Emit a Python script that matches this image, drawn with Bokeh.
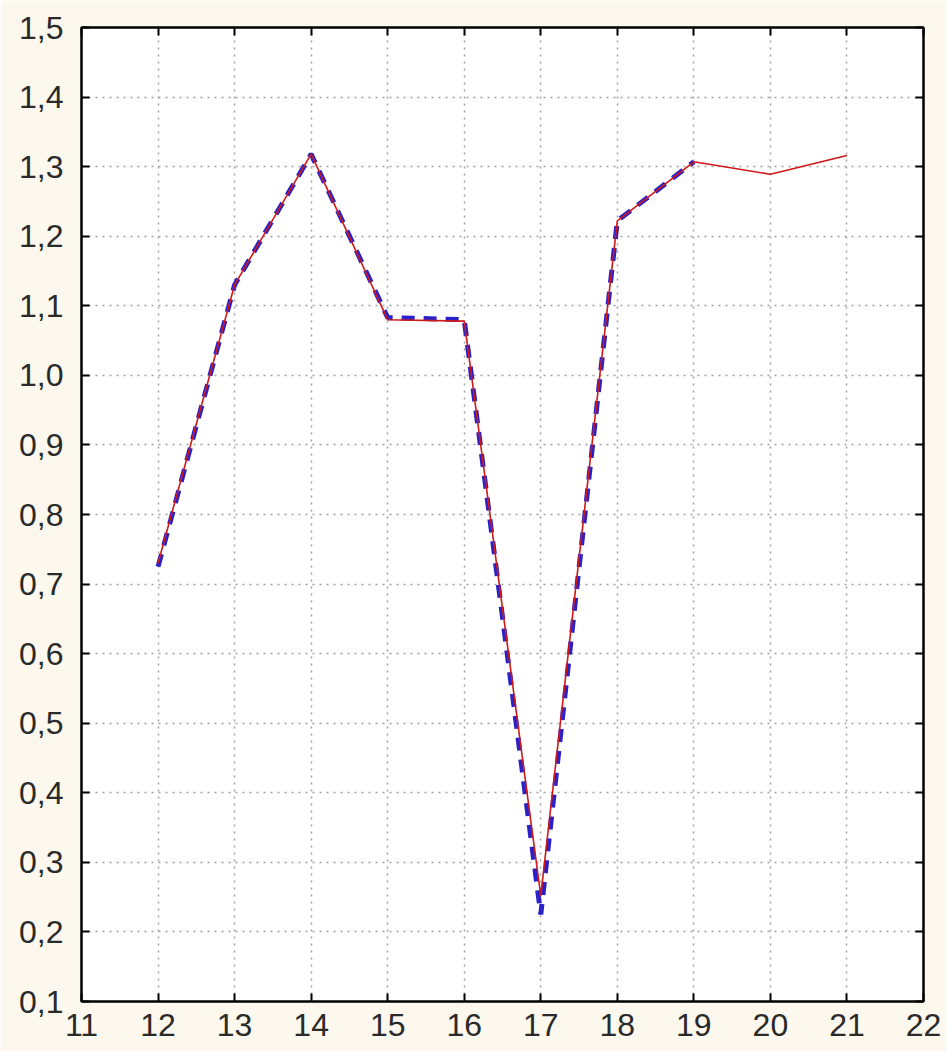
from bokeh.plotting import figure
from bokeh.models import (LinearAxis, FixedTicker, CustomJSTickFormatter, Range1d)
from bokeh.embed import file_html
from bokeh.resources import INLINE

# Data
x_red = [12, 13, 14, 15, 16, 17, 18, 19, 20, 21]
y_red = [0.73, 1.13, 1.318, 1.08, 1.078, 0.252, 1.222, 1.307, 1.289, 1.316]
x_blue = [12, 13, 14, 15, 16, 17, 18, 19]
y_blue = [0.725, 1.13, 1.318, 1.083, 1.08, 0.225, 1.222, 1.307]

x_ticks = list(range(11, 23))
y_ticks = [round(0.1 * i, 1) for i in range(1, 16)]

BG = "#FCF8EE"
FONT = "Liberation Sans"
FS = "32px"

p = figure(width=946, height=1051, output_backend="svg", toolbar_location=None,
           x_range=Range1d(11, 22), y_range=Range1d(0.1, 1.5),
           x_axis_location=None, y_axis_location=None,
           min_border_left=81, min_border_top=27, min_border_right=23, min_border_bottom=50)
p.border_fill_color = BG
p.background_fill_color = "white"
p.outline_line_color = "black"
p.outline_line_width = 2

fmt = CustomJSTickFormatter(code="return tick.toFixed(1).replace('.', ',');")
fmt_int = CustomJSTickFormatter(code="return tick.toFixed(0);")
empty = CustomJSTickFormatter(code="return '';")

def style(ax, labels=True):
    ax.axis_line_color = "black"
    ax.axis_line_width = 2
    ax.major_tick_in = 8
    ax.major_tick_out = 0
    ax.major_tick_line_width = 2
    ax.major_tick_line_color = "black"
    ax.minor_tick_line_color = None
    ax.major_label_text_font = FONT
    ax.major_label_text_font_size = FS
    ax.major_label_text_color = "#2a2a2a"
    if not labels:
        ax.major_label_text_font_size = "0px"
        ax.major_label_standoff = 0

left = LinearAxis(ticker=FixedTicker(ticks=y_ticks), formatter=fmt)
style(left)
left.major_label_standoff = 18
p.add_layout(left, "left")

bottom = LinearAxis(ticker=FixedTicker(ticks=x_ticks), formatter=fmt_int)
style(bottom)
bottom.major_label_standoff = 12
p.add_layout(bottom, "below")

right = LinearAxis(ticker=FixedTicker(ticks=y_ticks), formatter=empty)
style(right, labels=False)
p.add_layout(right, "right")

top = LinearAxis(ticker=FixedTicker(ticks=x_ticks), formatter=empty)
style(top, labels=False)
p.add_layout(top, "above")

p.xgrid.ticker = FixedTicker(ticks=x_ticks)
p.ygrid.ticker = FixedTicker(ticks=y_ticks)
p.xgrid.grid_line_color = "#a0a0a0"
p.ygrid.grid_line_color = "#a0a0a0"
p.xgrid.grid_line_dash = "2 5"
p.ygrid.grid_line_dash = "2 5"
p.xgrid.grid_line_width = 1.5
p.ygrid.grid_line_width = 1.5

p.line(x_blue, y_blue, line_color="#2a22c8", line_width=5, line_dash="13 9")
p.line(x_red, y_red, line_color="#d01818", line_width=1.6)

open("out.html", "w").write(file_html(p, INLINE))
